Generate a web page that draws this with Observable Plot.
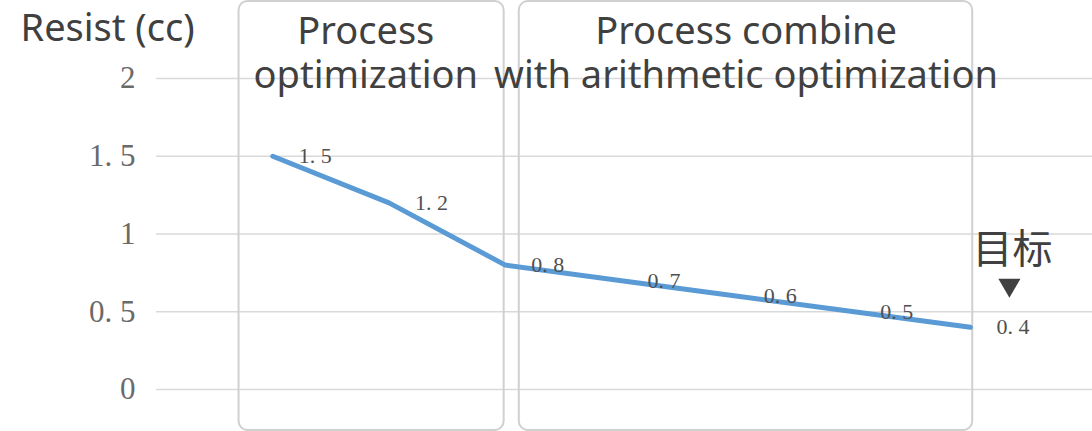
<!DOCTYPE html>
<html>
<head>
<meta charset="utf-8">
<script src="https://cdn.jsdelivr.net/npm/d3@7"></script>
<script src="https://cdn.jsdelivr.net/npm/@observablehq/plot@0.6"></script>
<style>
  html, body { margin: 0; padding: 0; background: #fff; }
  svg { overflow: visible; }
</style>
</head>
<body>
<div id="chart"></div>
<script>
// ---- data ----
const steps = [1, 2, 3, 4, 5, 6, 7];
const resist = [1.5, 1.2, 0.8, 0.7, 0.6, 0.5, 0.4];
const yTicks = [0, 0.5, 1, 1.5, 2];
const yTitle = "Resist (cc)";
const phaseLabels = ["Process\noptimization", "Process combine\nwith arithmetic optimization"];
const phaseFrom = [1, 3];
const phaseTo = [3, 7];
const targetLabel = "目标";

// ---- derived tables ----
const points = steps.map((s, i) => ({step: s, value: resist[i]}));
const padL = [-0.29, 0.12], padR = [-0.01, 0.02], shift = [-0.05, 0];
const phases = phaseLabels.map((label, i) => ({
  label,
  x1: phaseFrom[i] + padL[i],
  x2: phaseTo[i] + padR[i],
  shift: shift[i]
}));
const target = [points[points.length - 1]];
const fmt = d => String(d).replace(".", ". ");

// downward-pointing triangle symbol
const triangleDown = {
  draw(context, size) {
    const s = Math.sqrt(size * 4 / Math.sqrt(3));
    const h = s * Math.sqrt(3) / 2;
    context.moveTo(-s / 2, -h / 2);
    context.lineTo(s / 2, -h / 2);
    context.lineTo(0, h / 2);
    context.closePath();
  }
};

const chart = Plot.plot({
  width: 1092,
  height: 431,
  marginLeft: 156,
  marginRight: 0,
  marginTop: 78,
  marginBottom: 42,
  style: {background: "#fff"},
  x: {domain: [0, 8.05], axis: null},
  y: {domain: [0, 2], axis: null},
  marks: [
    Plot.gridY(yTicks, {stroke: "#d9d9d9", strokeOpacity: 1, strokeWidth: 1.5}),
    Plot.axisY(yTicks, {
      tickSize: 0, tickPadding: 21, tickFormat: fmt,
      fontSize: 31, fontFamily: "Liberation Serif", fill: "#6a6a6a", label: null
    }),
    Plot.rect(phases, {
      x1: "x1", x2: "x2", y1: -0.264, y2: 2.495,
      fill: "none", stroke: "#d0d0d0", strokeWidth: 2, rx: 9, clip: false
    }),
    Plot.text(phases, {
      x: d => (d.x1 + d.x2) / 2 + d.shift, y: 2.174, text: "label",
      fontSize: 38, fontFamily: "Noto Sans", fill: "#404040",
      lineHeight: 1.16, lineAnchor: "middle", textAnchor: "middle"
    }),
    Plot.line(points, {
      x: "step", y: "value", stroke: "#5b9bd5", strokeWidth: 5,
      strokeLinecap: "round", strokeLinejoin: "round"
    }),
    Plot.text(points, {
      x: "step", y: "value", text: d => fmt(d.value),
      dx: 26, textAnchor: "start", lineAnchor: "middle",
      fontSize: 22, fontFamily: "Liberation Serif", fill: "#505050"
    }),
    Plot.text(target, {
      x: "step", y: "value", text: () => targetLabel,
      dx: 42, dy: -77, fontSize: 40, fontFamily: "Noto Sans CJK SC",
      fill: "#404040", lineAnchor: "middle"
    }),
    Plot.dot(target, {
      x: "step", y: "value", symbol: triangleDown, r: 8.2,
      dx: 39, dy: -39, fill: "#404040", stroke: "none"
    }),
    Plot.text([yTitle], {
      frameAnchor: "top-left", text: d => d, dx: -136, dy: -50,
      textAnchor: "start", lineAnchor: "middle",
      fontSize: 38, fontFamily: "Noto Sans", fill: "#404040"
    })
  ]
});
document.getElementById("chart").appendChild(chart);
</script>
</body>
</html>
